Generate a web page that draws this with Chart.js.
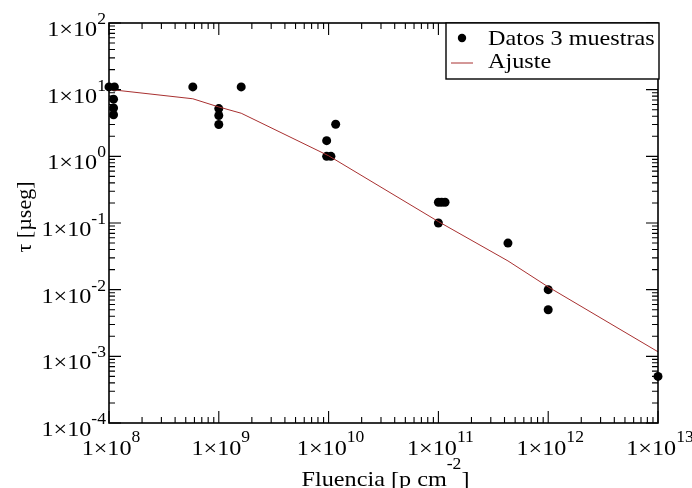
<!DOCTYPE html>
<html><head><meta charset="utf-8">
<script src="https://cdn.jsdelivr.net/npm/chart.js@4/dist/chart.umd.min.js"></script>
<style>html,body{margin:0;padding:0;background:#fff}#wrap{width:692px;height:488px;position:relative}</style>
</head><body><div id="wrap"><canvas id="c"></canvas></div>
<script>
// ---- data ----
const datosX = [1.0e8, 1.12e8, 1.1e8, 1.1e8, 1.1e8, 5.8e8, 1.0e9, 1.0e9, 1.0e9, 1.6e9, 9.6e9, 9.6e9, 1.05e10, 1.16e10, 1.0e11, 1.0e11, 1.07e11, 1.15e11, 4.3e11, 1.0e12, 1.0e12, 1.0e13];
const datosY = [11, 11, 7.2, 5.3, 4.2, 11, 5.2, 4.1, 3.0, 11, 1.72, 1.0, 1.0, 3.03, 0.1, 0.205, 0.205, 0.205, 0.05, 0.01, 0.005, 0.0005];
const ajusteX = [1e8, 5.8e8, 1e9, 1.6e9, 1e10, 1e11, 4.3e11, 1e12, 1e13];
const ajusteY = [10.1, 7.3, 5.5, 4.43, 1.02, 0.105, 0.027, 0.011, 0.00117];
const xTickValues = [1e8, 1e9, 1e10, 1e11, 1e12, 1e13];
const xTickLabels = ['1×10^{8}', '1×10^{9}', '1×10^{10}', '1×10^{11}', '1×10^{12}', '1×10^{13}'];
const yTickValues = [1e-4, 1e-3, 1e-2, 1e-1, 1e0, 1e1, 1e2];
const yTickLabels = ['1×10^{-4}', '1×10^{-3}', '1×10^{-2}', '1×10^{-1}', '1×10^{0}', '1×10^{1}', '1×10^{2}'];
const xTitle = 'Fluencia [p cm^{-2}]';
const yTitle = 'τ [µseg]';
const seriesLabels = ['Datos 3 muestras', 'Ajuste'];

const FONT = '"Liberation Serif", "Times New Roman", serif';
const SX = 1.1;
const LINE_COLOR = 'rgb(168,48,48)';

function parseRich(t) {
  const segs = []; const re = /\^\{([^}]*)\}/g; let last = 0, m;
  while ((m = re.exec(t))) {
    if (m.index > last) segs.push({ t: t.slice(last, m.index), sup: false });
    segs.push({ t: m[1], sup: true }); last = re.lastIndex;
  }
  if (last < t.length) segs.push({ t: t.slice(last), sup: false });
  return segs;
}
function drawRich(ctx, text, x, y, align, size, supSize, rise) {
  const segs = parseRich(text);
  let w = 0;
  segs.forEach(s => { ctx.font = (s.sup ? supSize : size) + 'px ' + FONT; s.w = ctx.measureText(s.t).width * SX; w += s.w; });
  let cx = align === 'center' ? x - w / 2 : align === 'right' ? x - w : x;
  ctx.textAlign = 'left'; ctx.textBaseline = 'alphabetic'; ctx.fillStyle = '#000';
  segs.forEach(s => {
    ctx.font = (s.sup ? supSize : size) + 'px ' + FONT;
    ctx.save(); ctx.translate(cx, s.sup ? y - rise : y); ctx.scale(SX, 1); ctx.fillText(s.t, 0, 0); ctx.restore();
    cx += s.w;
  });
}

const frame = {
  id: 'frame',
  afterDatasetsDraw(chart) {
    const ctx = chart.ctx, a = chart.chartArea, xs = chart.scales.x, ys = chart.scales.y;
    ctx.save();
    ctx.strokeStyle = '#000'; ctx.lineWidth = 1.1;
    const tick = (px, major, horiz) => {
      const L = major ? 12 : 6;
      ctx.beginPath();
      if (horiz) {
        ctx.moveTo(px, a.bottom); ctx.lineTo(px, a.bottom - L);
        ctx.moveTo(px, a.top); ctx.lineTo(px, a.top + L);
      } else {
        ctx.moveTo(a.left, px); ctx.lineTo(a.left + L, px);
        ctx.moveTo(a.right, px); ctx.lineTo(a.right - L, px);
      }
      ctx.stroke();
    };
    xTickValues.forEach((v, i) => {
      tick(xs.getPixelForValue(v), true, true);
      if (i < xTickValues.length - 1) for (let m = 2; m <= 9; m++) tick(xs.getPixelForValue(v * m), false, true);
    });
    yTickValues.forEach((v, i) => {
      tick(ys.getPixelForValue(v), true, false);
      if (i < yTickValues.length - 1) for (let m = 2; m <= 9; m++) tick(ys.getPixelForValue(v * m), false, false);
    });
    ctx.lineWidth = 1.6;
    ctx.strokeRect(a.left, a.top, a.right - a.left, a.bottom - a.top);
    xTickValues.forEach((v, i) => drawRich(ctx, xTickLabels[i], xs.getPixelForValue(v) + 2, a.bottom + 32, 'center', 22, 16, 13));
    yTickValues.forEach((v, i) => drawRich(ctx, yTickLabels[i], a.left - 3, ys.getPixelForValue(v) + 13, 'right', 22, 16, 12));
    drawRich(ctx, xTitle, (a.left + a.right) / 2 + 2, 486, 'center', 22, 16, 17);
    ctx.save();
    ctx.translate(25, 217); ctx.rotate(-Math.PI / 2);
    ctx.font = '22px ' + FONT; ctx.textAlign = 'center'; ctx.textBaseline = 'middle'; ctx.fillStyle = '#000';
    ctx.fillText(yTitle, 0, 0);
    ctx.restore();
    // legend
    const lx = 446, ly = a.top, lw = a.right + 1 - lx, lh = 56;
    ctx.fillStyle = '#fff'; ctx.fillRect(lx, ly, lw, lh);
    ctx.strokeStyle = '#000'; ctx.lineWidth = 1.4; ctx.strokeRect(lx, ly, lw, lh);
    const ds = chart.data.datasets;
    ctx.fillStyle = '#000'; ctx.beginPath(); ctx.arc(462, ly + 15, 4.2, 0, Math.PI * 2); ctx.fill();
    ctx.strokeStyle = LINE_COLOR; ctx.lineWidth = 1; ctx.beginPath(); ctx.moveTo(451, ly + 40); ctx.lineTo(473, ly + 40); ctx.stroke();
    drawRich(ctx, ds[0].label, 488, ly + 22, 'left', 22, 16, 0);
    drawRich(ctx, ds[1].label, 488, ly + 45, 'left', 22, 16, 0);
    ctx.restore();
  }
};

new Chart(document.getElementById('c'), {
  type: 'scatter',
  data: {
    datasets: [
      { label: seriesLabels[0], data: datosX.map((x, i) => ({ x, y: datosY[i] })), showLine: false,
        pointRadius: 4.5, pointBackgroundColor: '#000', pointBorderColor: '#000', pointBorderWidth: 0, order: 1, clip: false },
      { label: seriesLabels[1], data: ajusteX.map((x, i) => ({ x, y: ajusteY[i] })), showLine: true,
        borderColor: LINE_COLOR, borderWidth: 1, pointRadius: 0, tension: 0, order: 0, fill: false }
    ]
  },
  options: {
    responsive: true, maintainAspectRatio: false, animation: false,
    layout: { padding: { left: 109, right: 34, top: 23, bottom: 65 } },
    plugins: { legend: { display: false }, tooltip: { enabled: false }, title: { display: false } },
    scales: {
      x: { type: 'logarithmic', min: 1e8, max: 1e13, display: false },
      y: { type: 'logarithmic', min: 1e-4, max: 1e2, display: false }
    }
  },
  plugins: [frame]
});
</script></body></html>
